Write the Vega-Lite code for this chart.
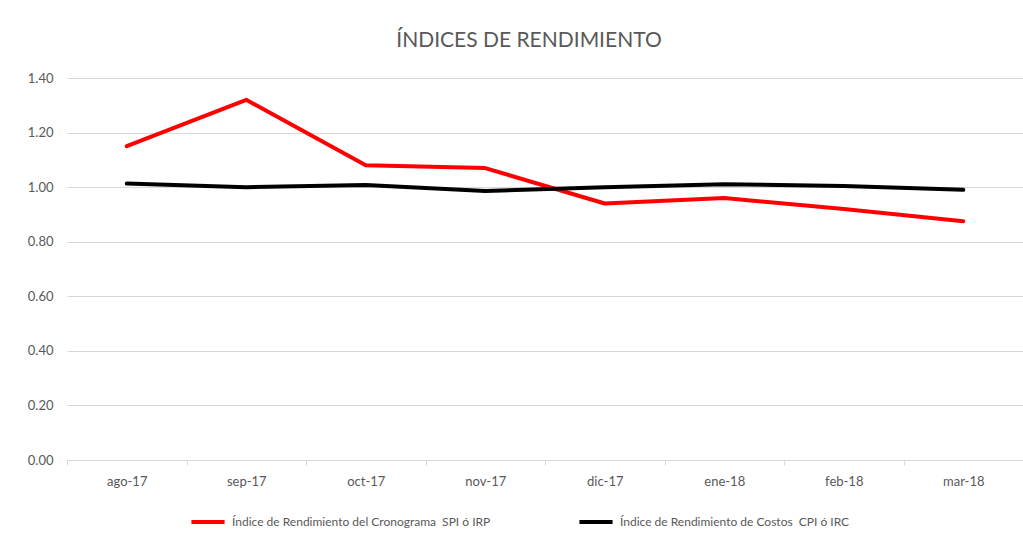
{
  "$schema": "https://vega.github.io/schema/vega-lite/v6.json",
  "autosize": "none",
  "width": 956,
  "height": 382,
  "padding": {"left": 67, "top": 78, "right": 0, "bottom": 84},
  "background": "white",
  "config": {
    "font": "Lato, sans-serif",
    "view": {"stroke": null}
  },
  "title": {
    "text": "ÍNDICES DE RENDIMIENTO",
    "fontSize": 21,
    "fontWeight": "normal",
    "color": "#595959",
    "anchor": "middle",
    "frame": "group",
    "dx": -16,
    "offset": 21
  },
  "data": {
    "values": [
      {"serie": "Índice de Rendimiento del Cronograma \u00a0SPI ó IRP", "mes": "ago-17", "valor": 1.15},
      {"serie": "Índice de Rendimiento del Cronograma \u00a0SPI ó IRP", "mes": "sep-17", "valor": 1.32},
      {"serie": "Índice de Rendimiento del Cronograma \u00a0SPI ó IRP", "mes": "oct-17", "valor": 1.08},
      {"serie": "Índice de Rendimiento del Cronograma \u00a0SPI ó IRP", "mes": "nov-17", "valor": 1.07},
      {"serie": "Índice de Rendimiento del Cronograma \u00a0SPI ó IRP", "mes": "dic-17", "valor": 0.94},
      {"serie": "Índice de Rendimiento del Cronograma \u00a0SPI ó IRP", "mes": "ene-18", "valor": 0.96},
      {"serie": "Índice de Rendimiento del Cronograma \u00a0SPI ó IRP", "mes": "feb-18", "valor": 0.92},
      {"serie": "Índice de Rendimiento del Cronograma \u00a0SPI ó IRP", "mes": "mar-18", "valor": 0.875},
      {"serie": "Índice de Rendimiento de Costos \u00a0CPI ó IRC", "mes": "ago-17", "valor": 1.013},
      {"serie": "Índice de Rendimiento de Costos \u00a0CPI ó IRC", "mes": "sep-17", "valor": 1.0},
      {"serie": "Índice de Rendimiento de Costos \u00a0CPI ó IRC", "mes": "oct-17", "valor": 1.008},
      {"serie": "Índice de Rendimiento de Costos \u00a0CPI ó IRC", "mes": "nov-17", "valor": 0.986},
      {"serie": "Índice de Rendimiento de Costos \u00a0CPI ó IRC", "mes": "dic-17", "valor": 1.0},
      {"serie": "Índice de Rendimiento de Costos \u00a0CPI ó IRC", "mes": "ene-18", "valor": 1.011},
      {"serie": "Índice de Rendimiento de Costos \u00a0CPI ó IRC", "mes": "feb-18", "valor": 1.004},
      {"serie": "Índice de Rendimiento de Costos \u00a0CPI ó IRC", "mes": "mar-18", "valor": 0.99}
    ]
  },
  "mark": {"type": "line", "strokeWidth": 4, "strokeCap": "round", "strokeJoin": "round"},
  "encoding": {
    "x": {
      "field": "mes",
      "type": "ordinal",
      "sort": null,
      "scale": {"type": "band", "paddingInner": 0, "paddingOuter": 0},
      "axis": {
        "title": null,
        "labelAngle": 0,
        "labelFontSize": 13,
        "labelColor": "#595959",
        "labelPadding": 10,
        "domainColor": "#D9D9D9",
        "tickColor": "#D9D9D9",
        "tickSize": 5,
        "tickBand": "extent",
        "grid": false
      }
    },
    "y": {
      "field": "valor",
      "type": "quantitative",
      "scale": {"domain": [0, 1.4], "nice": false},
      "axis": {
        "title": null,
        "values": [0, 0.2, 0.4, 0.6, 0.8, 1.0, 1.2, 1.4],
        "format": ".2f",
        "labelFontSize": 13,
        "labelColor": "#595959",
        "labelPadding": 14,
        "domain": false,
        "ticks": false,
        "gridColor": "#D9D9D9",
        "gridWidth": 1
      }
    },
    "color": {
      "field": "serie",
      "type": "nominal",
      "scale": {
        "domain": ["Índice de Rendimiento del Cronograma \u00a0SPI ó IRP", "Índice de Rendimiento de Costos \u00a0CPI ó IRC"],
        "range": ["#FF0000", "#000000"]
      },
      "legend": {
        "title": null,
        "orient": "none",
        "direction": "horizontal",
        "legendX": 122,
        "legendY": 425,
        "symbolType": "stroke",
        "symbolSize": 1100,
        "symbolStrokeWidth": 4,
        "labelFontSize": 12,
        "labelColor": "#595959",
        "labelLimit": 400,
        "labelOffset": 5,
        "columnPadding": 80
      }
    }
  }
}
